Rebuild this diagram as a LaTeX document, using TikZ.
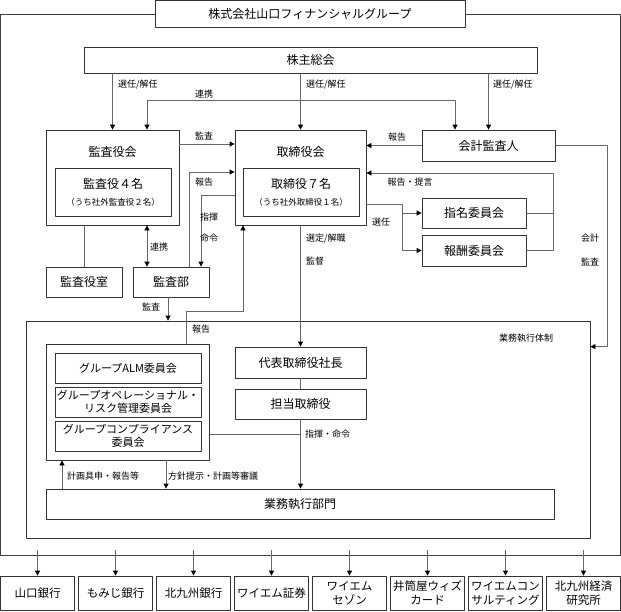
\documentclass[tikz,border=0pt]{standalone}
\usepackage{fontspec}
\setmainfont{Noto Sans CJK JP}
\usetikzlibrary{arrows.meta}

\begin{document}
\begin{tikzpicture}[x=1pt,y=-1pt,>={Triangle[length=5pt,width=5pt,color=black]},font=\fontsize{12}{14}\selectfont,line join=round]
	\tikzset{hako/.style={draw=black!80,line width=0.8pt,fill=white,inner sep=0pt,align=center},
		sen/.style={draw=black!60,line width=0.8pt},
		yajirushi/.style={sen,->},
		chuki/.style={font=\fontsize{9}{10}\selectfont,inner sep=0pt}}
	\useasboundingbox (0,0) rectangle (621,611);
	%%%%Group
	\node[hako,minimum width=310,minimum height=27,font=\fontsize{12}{14}\selectfont] (group) at (310,14) {株式会社山口フィナンシャルグループ};
	\draw[sen,draw=black!75] (group.west) -- (0.5,14) -- (0.5,555) -- (620,555) -- (620,14) -- (group.east);
	\coordinate (sotowaku) at (0,550);
	%%%%Kabunushi
	\node[hako,minimum width=453,minimum height=26] (kabunushi) at (310.5,60) {株主総会};
	%%%%Kansayakukai, torishimariyakukai
	\node[hako,minimum width=133,minimum height=95] (kansayakukai) at (112.5,177.5) {};
	\node (kansayakukai-t) at (112.5,152) {監査役会};
	\node[hako,minimum width=116,minimum height=48] (kansayaku) at (113,192) {監査役４名\\[3pt]{\fontsize{8.5}{10}\selectfont（うち社外監査役２名）}};
	\node[hako,minimum width=131,minimum height=95] (torishimariyakukai) at (300.5,177.5) {};
	\node (torishimariyakukai-t) at (300.5,152) {取締役会};
	\node[hako,minimum width=116,minimum height=48] (torishimariyaku) at (301,192) {取締役７名\\[3pt]{\fontsize{8.5}{10}\selectfont（うち社外取締役１名）}};
	\node[hako,minimum width=133,minimum height=31] (kaikei) at (488.5,145.5) {会計監査人};
	\node[hako,minimum width=104,minimum height=30] (shimei) at (474,213) {指名委員会};
	\node[hako,minimum width=104,minimum height=31] (hoshu) at (474,250.5) {報酬委員会};
	\node[hako,minimum width=76,minimum height=30] (kansayakushitsu) at (84,282) {監査役室};
	\node[hako,minimum width=76,minimum height=30] (kansabu) at (171,282) {監査部};
	%%%%Gyomu shikko taisei
	\node[hako,minimum width=563.5,minimum height=217] (taisei) at (308.25,429.5) {};
	\node[chuki] (taisei-t) at (526,338) {業務執行体制};
	\node[hako,minimum width=163,minimum height=116] (iinkai) at (127.5,402) {};
	\foreach \namae/\y/\moji in {alm/368/{グループALM委員会},ope/402/{グループオペレーショナル・\\リスク管理委員会},comp/436/{グループコンプライアンス\\委員会}}{
		\node[hako,minimum width=146,minimum height=30,font=\fontsize{11}{13}\selectfont] (\namae) at (128,\y) {\moji};
	}
	\node[hako,minimum width=131,minimum height=31] (daihyo) at (300.5,362.5) {代表取締役社長};
	\node[hako,minimum width=131,minimum height=30] (tanto) at (300.5,404) {担当取締役};
	\node[hako,minimum width=508,minimum height=30] (gyomu) at (300,504) {業務執行部門};
	%%%%Kogaisha
	\foreach \namae [count=\i from 0] in {山口銀行,もみじ銀行,北九州銀行,ワイエム証券,ワイエム\\セゾン,井筒屋ウィズ\\カード,ワイエムコン\\サルティング,北九州経済\\研究所}{
		\node[hako,minimum width=74,minimum height=34,font=\fontsize{11.5}{14}\selectfont] (ko\i) at (37.5+78*\i,593) {\namae};
		\draw[yajirushi] (ko\i.north |- sotowaku) -- (ko\i.north);
	}
	%%%%Senin / kainin
	\draw[yajirushi] (kabunushi.south -| kansayakukai.north) -- (kansayakukai.north);
	\draw[yajirushi] (kabunushi.south -| torishimariyakukai.north) -- (torishimariyakukai.north);
	\draw[yajirushi] (kabunushi.south -| kaikei.north) -- (kaikei.north);
	\node[chuki,anchor=west] (l-sennin1) at (118,85) {選任/解任};
	\node[chuki,anchor=west] (l-sennin2) at (306,85) {選任/解任};
	\node[chuki,anchor=west] (l-sennin3) at (493,85) {選任/解任};
	\draw[sen,<->] ([xshift=34.5pt]kansayakukai.north) -- ++(0,-29) -| ([xshift=-33.5pt]kaikei.north);
	\node[chuki] (l-renkei1) at (204,94) {連携};
	%%%%Kansa
	\draw[yajirushi] ([yshift=33.5pt]kansayakukai.east) -- ([yshift=33.5pt]kansayakukai.east -| torishimariyakukai.west);
	\node[chuki] (l-kansa1) at (204,136) {監査};
	\draw[yajirushi] ([xshift=18pt]kansabu.north) |- ([yshift=5.5pt]torishimariyakukai.west);
	\node[chuki] (l-hokoku1) at (204,182) {報告};
	\draw[yajirushi] ([yshift=-17.5pt]torishimariyakukai.west) -| ([xshift=30pt]kansabu.north);
	\node[chuki] (l-shiki) at (209,217) {指揮};
	\node[chuki] (l-meirei) at (209,238) {命令};
	\draw[sen,<->] ([xshift=34.5pt]kansayakukai.south) -- ([xshift=34.5pt]kansayakukai.south |- kansabu.north);
	\node[chuki] (l-renkei2) at (159,247) {連携};
	\draw[sen] (kansayakushitsu.north) -- (kansayakushitsu.north |- kansayakukai.south);
	\draw[yajirushi] ([xshift=-3pt]kansabu.south) -- ([xshift=-3pt]kansabu.south |- taisei.north);
	\node[chuki] (l-kansa2) at (151,307) {監査};
	\draw[yajirushi] ([xshift=58.5pt]iinkai.north) -- ++(0,-32) -| ([xshift=-57.5pt]torishimariyakukai.south);
	\node[chuki] (l-hokoku2) at (201,329) {報告};
	%%%%Kaikei kansanin, iinkai
	\draw[yajirushi] (kaikei.west) -- (kaikei.west -| torishimariyakukai.east);
	\node[chuki] (l-hokoku3) at (397,137) {報告};
	\draw[sen] (shimei.east) -- ++(27,0);
	\draw[yajirushi] (hoshu.east) -- ++(27,0) |- ([yshift=4.5pt]torishimariyakukai.east);
	\node[chuki] (l-teigen) at (410,182) {報告・提言};
	\draw[yajirushi] ([yshift=-26.5pt]torishimariyakukai.east) -| ([xshift=-19pt]hoshu.west) -- (hoshu.west);
	\draw[yajirushi] ([xshift=-19pt]shimei.west) -- (shimei.west);
	\node[chuki] (l-sennin4) at (381,222) {選任};
	\draw[yajirushi] (kaikei.east) -- ++(52,0) |- ([yshift=-26pt]taisei.north east);
	\node[chuki] (l-kaikei) at (590,238) {会計};
	\node[chuki] (l-kansa3) at (590,262) {監査};
	%%%%Shikko
	\draw[yajirushi] (torishimariyakukai.south) -- (daihyo.north);
	\node[chuki,anchor=west] (l-sentei) at (306,239) {選定/解職};
	\node[chuki,anchor=west] (l-kantoku) at (306,261) {監督};
	\draw[sen] (daihyo.south) -- (tanto.north);
	\draw[yajirushi] (tanto.south) -- (tanto.south |- gyomu.north);
	\draw[sen] ([yshift=-32pt]iinkai.east) -- ([yshift=-32pt]iinkai.east -| tanto.south);
	\node[chuki,anchor=west] (l-shikimeirei) at (305,434) {指揮・命令};
	\draw[yajirushi] ([xshift=-65.5pt]iinkai.south |- gyomu.north) -- ([xshift=-65.5pt]iinkai.south);
	\node[chuki,anchor=west] (l-keikaku) at (67,476) {計画具申・報告等};
	\draw[yajirushi] ([xshift=38.5pt]iinkai.south) -- ([xshift=38.5pt]iinkai.south |- gyomu.north);
	\node[chuki,anchor=west] (l-hoshin) at (168,476) {方針提示・計画等審議};
\end{tikzpicture}
\end{document}
